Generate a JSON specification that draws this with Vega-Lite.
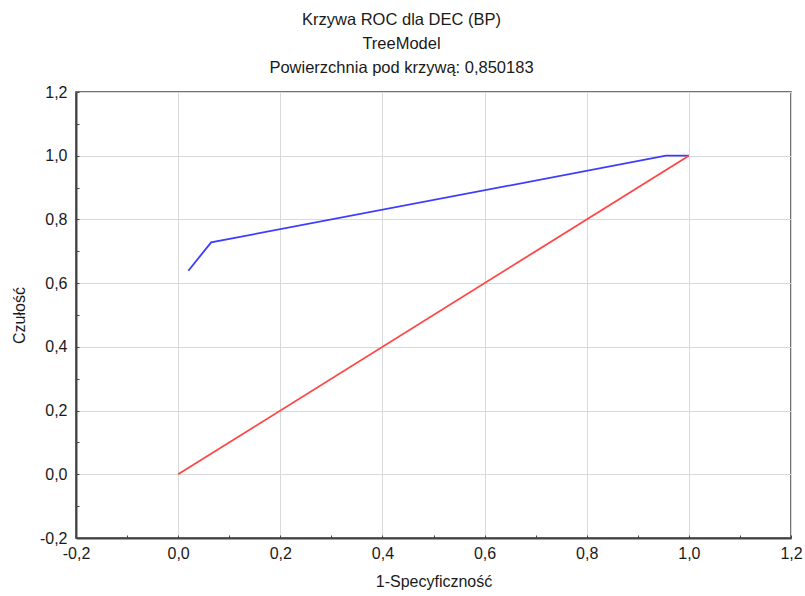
{
  "$schema": "https://vega.github.io/schema/vega-lite/v6.json",
  "width": 715,
  "height": 446,
  "autosize": {"type": "none"},
  "padding": {"left": 76, "top": 92, "right": 14, "bottom": 58},
  "background": "white",
  "title": {
    "text": ["Krzywa ROC dla DEC (BP)", "TreeModel", "Powierzchnia pod krzywą: 0,850183"],
    "anchor": "middle",
    "dx": -32,
    "offset": 8,
    "font": "Liberation Sans",
    "fontSize": 16.5,
    "fontWeight": "normal",
    "color": "#1a1a1a",
    "lineHeight": 24
  },
  "config": {
    "view": {"stroke": "#444", "strokeWidth": 1.5},
    "axis": {
      "labelFont": "Liberation Sans",
      "labelFontSize": 16,
      "labelColor": "#1a1a1a",
      "titleFont": "Liberation Sans",
      "titleFontSize": 16,
      "titleFontWeight": "normal",
      "titleColor": "#1a1a1a",
      "domainColor": "#444",
      "domainWidth": 2,
      "tickColor": "#444",
      "tickSize": -3,
      "gridColor": "#d9d9d9",
      "gridWidth": 1
    }
  },
  "data": {
    "values": [
      {"series": "roc", "x": 0.02, "y": 0.639, "o": 1},
      {"series": "roc", "x": 0.0646, "y": 0.728, "o": 2},
      {"series": "roc", "x": 0.955, "y": 1.0, "o": 3},
      {"series": "roc", "x": 1.0, "y": 1.0, "o": 4},
      {"series": "ref", "x": 0.0, "y": 0.0, "o": 1},
      {"series": "ref", "x": 1.0, "y": 1.0, "o": 2}
    ]
  },
  "mark": {"type": "line", "strokeWidth": 1.8},
  "encoding": {
    "x": {
      "field": "x",
      "type": "quantitative",
      "scale": {"domain": [-0.2, 1.2], "nice": false, "zero": false},
      "axis": {
        "title": "1-Specyficzność",
        "values": [-0.2, -0.1, 0, 0.1, 0.2, 0.3, 0.4, 0.5, 0.6, 0.7, 0.8, 0.9, 1.0, 1.1, 1.2],
        "labelExpr": "abs(round(datum.value*10)) % 2 === 1 ? '' : replace(replace(format(datum.value, '.1f'), '.', ','), '\u2212', '-')",
        "gridOpacity": {"condition": {"test": "abs(round(datum.value*10)) % 2 === 1", "value": 0}, "value": 1},
        "labelPadding": 10,
        "titlePadding": 12,
        "labelFlush": false,
        "labelOverlap": false
      }
    },
    "y": {
      "field": "y",
      "type": "quantitative",
      "scale": {"domain": [-0.2, 1.2], "nice": false, "zero": false},
      "axis": {
        "title": "Czułość",
        "values": [-0.2, -0.1, 0, 0.1, 0.2, 0.3, 0.4, 0.5, 0.6, 0.7, 0.8, 0.9, 1.0, 1.1, 1.2],
        "labelExpr": "abs(round(datum.value*10)) % 2 === 1 ? '' : replace(replace(format(datum.value, '.1f'), '.', ','), '\u2212', '-')",
        "gridOpacity": {"condition": {"test": "abs(round(datum.value*10)) % 2 === 1", "value": 0}, "value": 1},
        "labelPadding": 12,
        "titlePadding": 12,
        "labelFlush": false,
        "labelOverlap": false
      }
    },
    "color": {
      "field": "series",
      "type": "nominal",
      "scale": {"domain": ["roc", "ref"], "range": ["#3c3cff", "#ff4646"]},
      "legend": null
    },
    "order": {"field": "o", "type": "quantitative"}
  }
}
